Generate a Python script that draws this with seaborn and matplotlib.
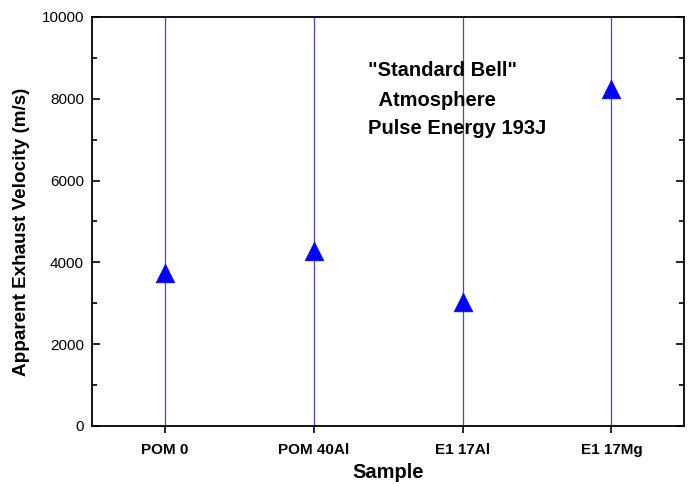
import numpy as np
import pandas as pd
import matplotlib
matplotlib.use("Agg")
import matplotlib.pyplot as plt
import seaborn as sns
from matplotlib.ticker import MultipleLocator

samples = ["POM 0", "POM 40Al", "E1 17Al", "E1 17Mg"]
velocity = [3750, 4270, 3020, 8230]
note_lines = ['"Standard Bell"', '  Atmosphere', 'Pulse Energy 193J']

sns.set_style("ticks")
plt.rcParams['font.family'] = ['Liberation Sans', 'DejaVu Sans']
plt.rcParams.update({"text.color": "black", "axes.labelcolor": "black",
                     "xtick.color": "black", "ytick.color": "black"})

df = pd.DataFrame({"Sample": samples, "Velocity": velocity})

fig, ax = plt.subplots(figsize=(6.94, 4.84), dpi=100)
fig.subplots_adjust(left=0.133, right=0.986, top=0.965, bottom=0.12)

# thin blue verticals through each sample
for i in range(len(samples)):
    ax.axvline(i, color="#4040ff", lw=0.9, zorder=1)

sns.scatterplot(data=df, x="Sample", y="Velocity", marker="^", s=180,
                color="#0000ff", edgecolor="#0000ff", linewidth=0.5, ax=ax, zorder=3)

ax.set_xlim(-0.49, len(samples) - 0.51)
ax.set_ylim(0, 10000)
ax.yaxis.set_major_locator(MultipleLocator(2000))
ax.yaxis.set_minor_locator(MultipleLocator(1000))

for s in ax.spines.values():
    s.set_visible(True)
    s.set_linewidth(1.3)
    s.set_color("black")

ax.tick_params(axis="y", which="major", direction="in", length=6, width=1.2,
               right=True, labelsize=11, pad=6)
ax.tick_params(axis="y", which="minor", direction="in", length=3.5, width=1.2, right=True)
ax.tick_params(axis="x", which="major", direction="out", length=5, width=1.2,
               top=False, labelsize=11, pad=7)
for lab in ax.get_xticklabels():
    lab.set_fontweight("bold")

ax.set_xlabel("Sample", fontsize=14.5, fontweight="bold")
ax.xaxis.set_label_coords(0.50, -0.09)
ax.set_ylabel("Apparent Exhaust Velocity (m/s)", fontsize=13.6, fontweight="bold")
ax.yaxis.set_label_coords(-0.105, 0.474)

ys = [0.868, 0.795, 0.727]
for t, y in zip(note_lines, ys):
    ax.text(0.466, y, t, transform=ax.transAxes, fontsize=14.5, fontweight="bold",
            ha="left", va="center")

fig.savefig("out.png", dpi=100)
